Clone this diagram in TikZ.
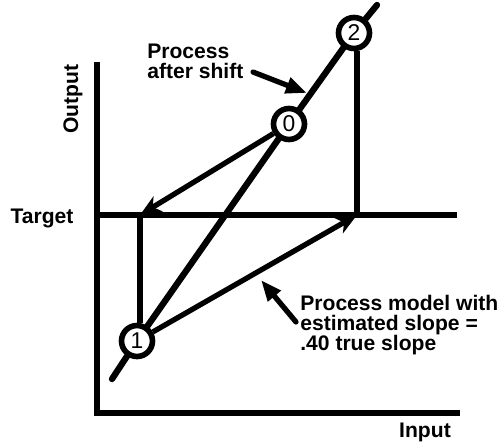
\documentclass[tikz,border=0pt]{standalone}
\usepackage{fontspec}
\setmainfont{Liberation Sans}
\usetikzlibrary{arrows.meta, positioning, calc}

\begin{document}
\begin{tikzpicture}[x=0.02cm, y=-0.02cm,
    state/.style={draw, circle, line width=3.2pt, fill=white, minimum size=0.62cm, inner sep=0pt, font=\fontsize{13}{13}\selectfont},
    axis/.style={line width=2.9pt},
    process/.style={line width=3.6pt, line cap=round},
    move/.style={line width=3pt, -{Stealth[length=12pt, width=10pt, inset=3.5pt]}},
    pointer/.style={line width=3pt, line cap=round, -{Triangle[length=12pt, width=9pt]}},
    label/.style={font=\fontsize{12}{11.4}\selectfont\bfseries, inner sep=0pt}
]
\useasboundingbox (0,0) rectangle (500,446);

% Axes
\coordinate (ytop) at (97,62);
\coordinate (o) at (97,413);
\coordinate (xend) at (460,413);
\draw[axis, line join=miter] (ytop) -- (o) -- (xend);
\node[label, rotate=90] (output) at (73,99) {Output};
\node[label] (input) at (425,432) {Input};

% Target line
\coordinate (tl) at (100,215);
\coordinate (tr) at (457,215);
\draw[axis] (tl) -- (tr);
\node[label] (target) at (42,218) {Target};

% States
\node[state] (n1) at (137,341) {1};
\node[state] (n0) at (289,124) {0};
\node[state] (n2) at (354,33) {2};

% Process after shift
\coordinate (lowend) at (112,379);
\coordinate (highend) at (377,5);
\draw[process] (lowend) -- (n1);
\draw[process] (n1) -- (n0);
\draw[process] (n0) -- (n2);
\draw[process] (n2) -- (highend);

% Moves to target
\coordinate (t1) at (140,215);
\coordinate (t2) at (357,215);
\draw[move] (n0) -- (t1);
\draw[move] (n1) -- (t2);
\draw[axis] (t1) -- (t1 |- n1.north);
\draw[axis] (t2 |- n2.south) -- (t2);

% Labels with pointers
\node[label, anchor=west, align=left] (shiftlabel) at (147,61) {Process\\after shift};
\coordinate (shifttail) at (253,72);
\coordinate (shifttip) at (307,93);
\draw[pointer] (shifttail) -- (shifttip);

\node[label, anchor=west, align=left] (modellabel) at (300,325) {Process model with\\estimated slope =\\.40 true slope};
\coordinate (modeltail) at (296,322);
\coordinate (modeltip) at (261,280);
\draw[pointer] (modeltail) -- (modeltip);

\end{tikzpicture}
\end{document}
